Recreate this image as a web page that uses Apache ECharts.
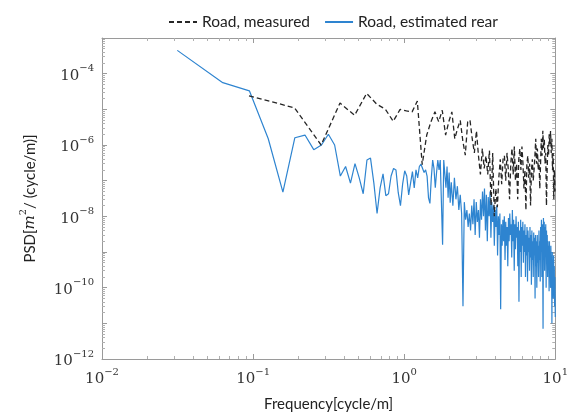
<!DOCTYPE html>
<html>
<head>
<meta charset="utf-8">
<script src="https://cdn.jsdelivr.net/npm/echarts@6/dist/echarts.min.js"></script>
<style>
  html, body { margin: 0; padding: 0; background: #fff; }
  #chart { width: 571px; height: 417px; }
</style>
</head>
<body>
<div id="chart"></div>
<script>
// measured road profile, PSD per frequency bin
const measuredFreq = [
  0.094, 0.188, 0.282, 0.376, 0.47, 0.564, 0.658, 0.752, 0.846, 0.94,
  1.034, 1.128, 1.222, 1.316, 1.41, 1.504, 1.598, 1.692, 1.786, 1.88,
  1.974, 2.068, 2.162, 2.256, 2.35, 2.444, 2.538, 2.632, 2.726, 2.82,
  2.914, 3.008, 3.102, 3.196, 3.29, 3.384, 3.478, 3.572, 3.666, 3.76,
  3.854, 3.948, 4.042, 4.136, 4.23, 4.324, 4.418, 4.512, 4.606, 4.7,
  4.794, 4.888, 4.982, 5.076, 5.17, 5.264, 5.358, 5.452, 5.546, 5.64,
  5.734, 5.828, 5.922, 6.016, 6.11, 6.204, 6.298, 6.392, 6.486, 6.58,
  6.674, 6.768, 6.862, 6.956, 7.05, 7.144, 7.238, 7.332, 7.426, 7.52,
  7.614, 7.708, 7.802, 7.896, 7.99, 8.084, 8.178, 8.272, 8.366, 8.46,
  8.554, 8.648, 8.742, 8.836, 8.93, 9.024, 9.118, 9.212, 9.306, 9.4,
  9.494, 9.588, 9.682, 9.776, 9.87, 9.964
]
const measuredPsd = [
  2.4e-5, 1.1e-5, 1e-6, 1.5e-5, 6.8e-6, 2.8e-5, 1.4e-5, 1e-5, 4.6e-6, 1e-5,
  9e-6, 8.5e-6, 1.7e-5, 2.8e-7, 1.9e-6, 4.5e-6, 8.5e-6, 4.5e-6, 9.4e-6, 1.9e-6,
  4.5e-6, 8.5e-6, 1.5e-6, 2.9e-6, 4.9e-6, 1.3e-6, 5.2e-7, 4.5e-6, 5e-6, 1.5e-6,
  6e-7, 2.5e-6, 5e-7, 1.5e-7, 8e-7, 2.2e-7, 5e-7, 1.5e-7, 7e-7, 2e-8,
  6e-7, 1e-8, 6e-8, 1.8e-8, 1.2e-7, 4e-7, 8e-8, 4e-7, 5e-7, 1e-7,
  6e-7, 2e-7, 3e-8, 3e-7, 8e-7, 1.5e-7, 9e-7, 1e-7, 3e-7, 3e-8,
  4e-7, 8e-7, 2e-7, 9e-7, 3e-7, 6e-8, 2e-7, 1.5e-8, 3e-7, 5e-7,
  1.2e-7, 3e-7, 2e-8, 2e-7, 4e-7, 1e-7, 2e-7, 5e-7, 1.5e-6, 3e-7,
  8e-7, 2e-7, 4e-7, 6e-8, 3e-7, 1.5e-6, 5e-7, 2.5e-6, 8e-7, 1.5e-6,
  3e-7, 6e-7, 2e-8, 2e-7, 1e-6, 5e-7, 2e-6, 1e-6, 2.5e-6, 6e-7,
  1.5e-6, 2e-7, 6e-7, 3e-8, 2e-7, 5e-8
]

// estimated rear road profile
const rearFreq = [
  0.0315, 0.063, 0.0945, 0.126, 0.1575, 0.189, 0.2205, 0.252, 0.2835, 0.315,
  0.3465, 0.378, 0.4095, 0.441, 0.4725, 0.504, 0.5355, 0.567, 0.5985, 0.63,
  0.6615, 0.693, 0.7245, 0.756, 0.7875, 0.819, 0.8505, 0.882, 0.9135, 0.945,
  0.9765, 1.008, 1.0395, 1.071, 1.1025, 1.134, 1.1655, 1.197, 1.2285, 1.26,
  1.2915, 1.323, 1.3545, 1.386, 1.4175, 1.449, 1.4805, 1.512, 1.5435, 1.575,
  1.6065, 1.638, 1.6695, 1.701, 1.7325, 1.764, 1.7955, 1.827, 1.8585, 1.89,
  1.9215, 1.953, 1.9845, 2.016,
  2.05, 2.1, 2.15, 2.2, 2.25, 2.3, 2.35, 2.4, 2.45, 2.5,
  2.55, 2.6, 2.65, 2.7, 2.75, 2.8, 2.85, 2.9, 2.95, 3.0,
  3.05, 3.1, 3.15, 3.2, 3.25, 3.3, 3.35, 3.4, 3.45, 3.5,
  3.55, 3.6, 3.65, 3.7, 3.75, 3.8, 3.85, 3.9, 3.95, 4.0,
  4.05, 4.1, 4.15, 4.2, 4.25, 4.3, 4.35, 4.4, 4.45, 4.5,
  4.55, 4.6, 4.65, 4.7, 4.75, 4.8, 4.85, 4.9, 4.95, 5.0,
  5.05, 5.1, 5.15, 5.2, 5.25, 5.3, 5.35, 5.4, 5.45, 5.5,
  5.55, 5.6, 5.65, 5.7, 5.75, 5.8, 5.85, 5.9, 5.95, 6.0,
  6.05, 6.1, 6.15, 6.2, 6.25, 6.3, 6.35, 6.4, 6.45, 6.5,
  6.55, 6.6, 6.65, 6.7, 6.75, 6.8, 6.85, 6.9, 6.95, 7.0,
  7.05, 7.1, 7.15, 7.2, 7.25, 7.3, 7.35, 7.4, 7.45, 7.5,
  7.55, 7.6, 7.65, 7.7, 7.75, 7.8, 7.85, 7.9, 7.95, 8.0,
  8.05, 8.1, 8.15, 8.2, 8.25, 8.3, 8.35, 8.4, 8.45, 8.5,
  8.55, 8.6, 8.65, 8.7, 8.75, 8.8, 8.85, 8.9, 8.95, 9.0,
  9.05, 9.1, 9.15, 9.2, 9.25, 9.3, 9.35, 9.4, 9.45, 9.5,
  9.55, 9.6, 9.65, 9.7, 9.75, 9.8, 9.85, 9.9, 9.95, 10.0
]
const rearPsd = [
  4.5e-4, 5.6e-5, 3.3e-5, 1.5e-6, 4.8e-8, 1.6e-6, 1.9e-6, 7.4e-7, 1e-6, 2e-6,
  1e-6, 1.35e-7, 2.5e-7, 8.5e-8, 3e-7, 1.2e-7, 4.3e-8, 3.8e-7, 4.3e-7, 8.5e-8,
  1.2e-8, 6.3e-8, 1.55e-7, 3.8e-8, 4.3e-8, 1.35e-7, 2.2e-7, 2e-7, 4.6e-8, 2e-8,
  8e-8, 1.9e-7, 1.35e-7, 4e-8, 4.3e-8, 1.8e-7, 6.3e-8, 2e-7, 1.2e-7, 2.5e-7,
  2.9e-7, 2.75e-7, 1.7e-7, 2e-7, 1.35e-7, 3.3e-8, 2.3e-8, 1.2e-7, 3.8e-7, 2.2e-7,
  6.3e-8, 1.7e-7, 3.8e-7, 2e-7, 3.8e-7, 2.4e-8, 1.6e-9, 3.8e-7, 4.3e-7, 6.3e-8,
  2.5e-7, 3.3e-8, 1.7e-7, 2.4e-8,
  9e-8, 2e-8, 1.2e-7, 3e-8, 7e-8, 1.5e-8, 4e-8, 1.2e-8, 3e-11, 2.5e-8,
  8e-9, 1.5e-8, 5e-9, 1.2e-8, 4e-9, 2e-8, 6e-9, 3e-8, 3e-9, 2.5e-8,
  7e-9, 1.5e-8, 2.5e-9, 3e-8, 8e-9, 5e-8, 1e-8, 6e-8, 4e-9, 4e-8,
  2e-9, 3.5e-8, 1e-8, 5e-8, 2.5e-9, 2.5e-8, 7e-9, 2e-8, 1.5e-9, 1.5e-8,
  5e-9, 2e-8, 8e-10, 1e-8, 3e-9, 1.2e-8, 2.5e-11, 6e-9, 1.5e-9, 8e-9,
  2e-9, 1e-8, 6e-10, 7e-9, 1.5e-9, 5e-9, 4e-10, 9e-9, 2e-9, 1.2e-8,
  3e-9, 6e-9, 7e-10, 1.5e-8, 2e-9, 8e-9, 3e-10, 6e-9, 1.2e-9, 1e-8,
  2.5e-9, 5e-9, 4e-10, 7e-9, 4e-11, 4e-9, 1e-9, 8e-9, 2e-10, 5e-9,
  1.5e-9, 7e-9, 5e-10, 4e-9, 1e-9, 6e-9, 2e-10, 3e-9, 8e-10, 5e-9,
  1.5e-10, 4e-9, 1e-9, 2.5e-9, 3e-10, 5e-9, 7e-10, 3e-9, 1.2e-10, 4e-9,
  6e-10, 2e-9, 2e-10, 3.5e-9, 8e-10, 2.5e-9, 5e-11, 3e-9, 4e-10, 2e-9,
  1e-10, 3e-9, 5e-10, 1.5e-9, 2e-10, 4e-9, 6e-10, 2e-9, 1.5e-10, 5e-9,
  1e-9, 8e-9, 2e-10, 6e-9, 1e-9, 7e-12, 9e-9, 1.5e-9, 7e-9, 3e-10,
  5e-9, 1.2e-9, 6e-9, 1e-10, 4e-9, 8e-10, 3e-9, 2e-10, 2e-9, 5e-10,
  1.5e-9, 8e-11, 2e-9, 3e-10, 1e-9, 1e-10, 1.5e-9, 2e-10, 8e-10, 1e-11,
  1e-9, 1.5e-10, 6e-10, 5e-11, 8e-10, 1e-10, 4e-10, 3e-11, 2e-10, 1.5e-11
]

const seriesNames = ['Road, measured', 'Road, estimated rear']
const xTicks = [0.01, 0.1, 1, 10]

const serif = 'DejaVu Serif'
const sans = 'Lato'

function powText(v) {
  const e = Math.round(Math.log10(v))
  return '{b|10}{s|' + (e < 0 ? '\u2212' : '') + Math.abs(e) + '}'
}
// y axis: only every second decade gets a label
function evenPow(v) {
  const e = Math.round(Math.log10(v))
  return e % 2 === 0 ? powText(v) : ''
}
const powRich = {
  b: { fontFamily: serif, fontSize: 15, color: '#333', lineHeight: 20, verticalAlign: 'bottom' },
  s: { fontFamily: serif, fontSize: 10, color: '#333', lineHeight: 10, verticalAlign: 'top' }
}

const frame = { lineStyle: { color: '#9a9a9a', width: 1 } }
const tick = { show: true, inside: true, length: 5, lineStyle: { color: '#9a9a9a' } }
const minor = { show: true, splitNumber: 9, length: 3, lineStyle: { color: '#b0b0b0' } }

const chart = echarts.init(document.getElementById('chart'))
chart.setOption({
  backgroundColor: '#fff',
  animation: false,
  grid: { left: 102, right: 14, top: 38, bottom: 53 },
  legend: {
    left: 163,
    top: 9,
    itemWidth: 28,
    itemHeight: 10,
    itemGap: 14,
    itemStyle: { opacity: 0 },
    textStyle: { fontFamily: sans, fontSize: 15.5, color: '#222' },
    data: seriesNames
  },
  xAxis: [{
    type: 'log',
    logBase: 10,
    min: xTicks[0],
    max: xTicks[xTicks.length - 1],
    name: 'Frequency[cycle/m]',
    nameLocation: 'middle',
    nameGap: 38,
    nameTextStyle: { fontFamily: sans, fontSize: 15, color: '#222' },
    axisLine: frame,
    axisTick: tick,
    minorTick: minor,
    splitLine: { show: false },
    axisLabel: { margin: 8, formatter: powText, rich: powRich }
  }, {
    type: 'log',
    logBase: 10,
    position: 'top',
    min: xTicks[0],
    max: xTicks[xTicks.length - 1],
    axisLine: frame,
    axisTick: tick,
    minorTick: minor,
    splitLine: { show: false },
    axisLabel: { show: false }
  }],
  yAxis: [{
    type: 'log',
    logBase: 10,
    min: 1e-12,
    max: 1e-3,
    name: '{n|PSD[}{i|m}{p|2}{n|/ (cycle/m)]}',
    nameLocation: 'middle',
    nameGap: 64,
    nameTextStyle: {
      rich: {
        n: { fontFamily: sans, fontSize: 15, color: '#222', lineHeight: 20, verticalAlign: 'bottom' },
        i: { fontFamily: serif, fontStyle: 'italic', fontSize: 15, color: '#222', lineHeight: 20, verticalAlign: 'bottom' },
        p: { fontFamily: serif, fontSize: 10, color: '#222', lineHeight: 10, verticalAlign: 'top' }
      }
    },
    axisLine: frame,
    axisTick: tick,
    minorTick: minor,
    splitLine: { show: false },
    axisLabel: { margin: 8, formatter: evenPow, rich: powRich }
  }, {
    type: 'log',
    logBase: 10,
    position: 'right',
    min: 1e-12,
    max: 1e-3,
    axisLine: frame,
    axisTick: tick,
    minorTick: minor,
    splitLine: { show: false },
    axisLabel: { show: false }
  }],
  series: [{
    name: seriesNames[0],
    type: 'line',
    symbol: 'none',
    sampling: null,
    z: 3,
    lineStyle: { color: '#262626', width: 1.3, type: [5, 3] },
    itemStyle: { color: '#262626' },
    data: measuredFreq.map((f, i) => [f, measuredPsd[i]])
  }, {
    name: seriesNames[1],
    type: 'line',
    symbol: 'none',
    sampling: null,
    z: 2,
    lineStyle: { color: '#2e84d0', width: 1.2 },
    itemStyle: { color: '#2e84d0' },
    data: rearFreq.map((f, i) => [f, rearPsd[i]])
  }]
})
</script>
</body>
</html>
